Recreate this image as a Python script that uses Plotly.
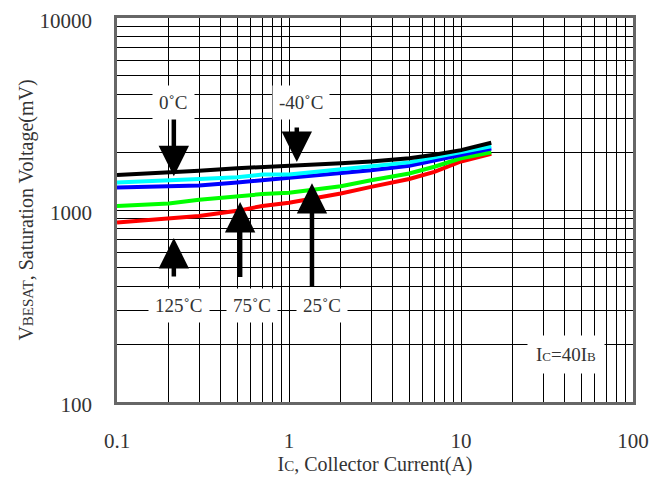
import plotly.graph_objects as go
import math

ic = [0.1, 0.2, 0.3, 0.5, 0.7, 1, 2, 3, 5, 7, 10, 15]
v_m40 = [1520, 1560, 1600, 1650, 1670, 1700, 1750, 1790, 1860, 1940, 2050, 2240]
v_0 = [1390, 1420, 1450, 1480, 1530, 1530, 1630, 1680, 1770, 1880, 2000, 2150]
v_25 = [1310, 1320, 1340, 1390, 1430, 1460, 1550, 1610, 1700, 1810, 1930, 2090]
v_75 = [1050, 1080, 1130, 1180, 1210, 1230, 1330, 1430, 1550, 1680, 1860, 2000]
v_125 = [860, 900, 930, 990, 1050, 1090, 1220, 1320, 1450, 1580, 1790, 1960]

series = [
    (v_125, "#ff0000", "125°C"),
    (v_75, "#00ff00", "75°C"),
    (v_25, "#0000ff", "25°C"),
    (v_0, "#00ffff", "0°C"),
    (v_m40, "#000000", "-40°C"),
]

x_major = [0.1, 1, 10, 100]
y_major = [100, 1000, 10000]
x_minor = [m * d for d in [0.1, 1, 10] for m in range(2, 10)]
y_minor = [m * d for d in [100, 1000] for m in range(2, 10)]

FONT = "Liberation Serif"
TXT = "#333"

fig = go.Figure()
for vals, col, name in series:
    fig.add_trace(go.Scatter(x=ic, y=vals, mode="lines", name=name,
                             line=dict(color=col, width=4), showlegend=False))

# arrows: (x, y_tail, y_tip)
arrows = [
    (0.214, 3050, 1500),   # 0°C
    (1.11, 2740, 1780),    # -40°C
    (0.214, 443, 714),     # 125°C
    (0.52, 440, 1100),     # 75°C
    (1.36, 393, 1380),     # 25°C
]
for x, yt, yh in arrows:
    fig.add_annotation(x=math.log10(x), y=math.log10(yh), ax=math.log10(x), ay=math.log10(yt),
                       xref="x", yref="y", axref="x", ayref="y", text="",
                       showarrow=True, arrowhead=2, arrowsize=1.35, arrowwidth=4.5,
                       arrowcolor="black", standoff=0)

labels = [
    (0.214, 3650, "0˚C"),
    (1.175, 3650, "-40˚C"),
    (0.229, 320, "125˚C"),
    (0.61, 320, "75˚C"),
    (1.55, 320, "25˚C"),
]
for x, y, t in labels:
    fig.add_annotation(x=math.log10(x), y=math.log10(y), xref="x", yref="y", text=t,
                       showarrow=False, bgcolor="white", borderpad=6,
                       font=dict(family=FONT, size=19, color=TXT))

fig.add_annotation(x=math.log10(40.8), y=math.log10(176), xref="x", yref="y",
                   text="I<span style='font-size:13px'>C</span>=40I<span style='font-size:13px'>B</span>",
                   showarrow=False, bgcolor="white", borderpad=8,
                   font=dict(family=FONT, size=19, color=TXT))

axis_common = dict(type="log", showline=True, linecolor="#666", linewidth=2.5, mirror=True,
                   showgrid=True, gridcolor="black", gridwidth=1, ticks="", zeroline=False,
                   automargin=False, ticklabeloverflow="allow",
                   tickfont=dict(family=FONT, size=21, color=TXT),
                   ticklabelstandoff=18)

fig.update_xaxes(**axis_common, range=[-1, 2], tickvals=x_major, ticktext=["0.1", "1", "10", "100"],
                 minor=dict(tickvals=x_minor, showgrid=True, gridcolor="black", gridwidth=1, ticks=""),
                 title=dict(text="I<span style='font-size:15px'>C</span>, Collector Current(A)",
                            font=dict(family=FONT, size=20, color=TXT), standoff=6))
fig.update_yaxes(**axis_common, range=[2, 4], tickvals=y_major, ticktext=["100", "1000", "10000"],
                 ticklabelshift=3,
                 minor=dict(tickvals=y_minor, showgrid=True, gridcolor="black", gridwidth=1, ticks=""),
                 title=dict(text="V<span style='font-size:15px'>BESAT</span>, Saturation Voltage(mV)",
                            font=dict(family=FONT, size=20, color=TXT), standoff=1))

fig.update_layout(width=667, height=480, plot_bgcolor="white", paper_bgcolor="white",
                  margin=dict(l=109, r=42, t=10, b=86))

fig.write_html("out.html")
